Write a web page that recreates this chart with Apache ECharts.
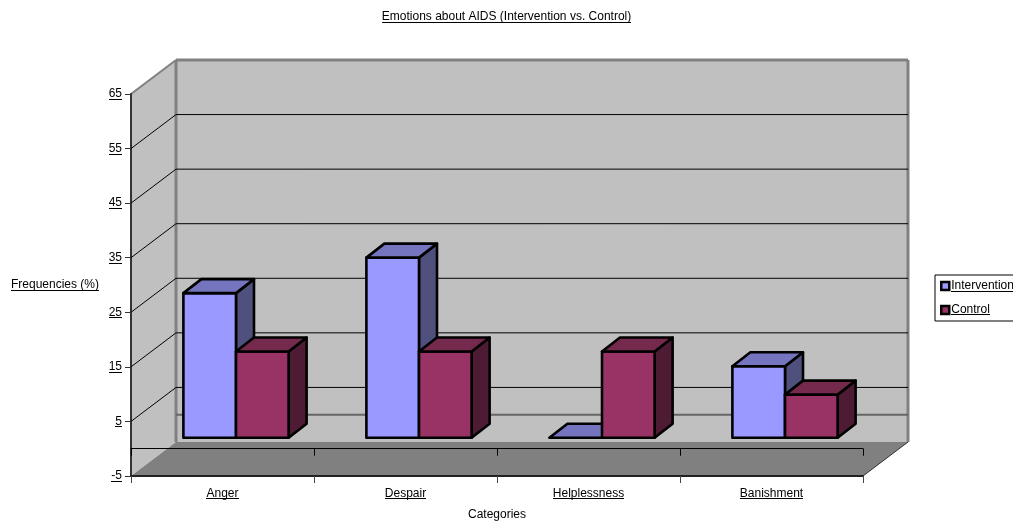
<!DOCTYPE html>
<html><head><meta charset="utf-8">
<style>html,body{margin:0;padding:0;background:#fff}#c{width:1013px;height:521px}</style>
<script src="https://cdn.jsdelivr.net/npm/echarts@6/dist/echarts.min.js"></script>
</head><body><div id="c"></div>
<script>
const titleText = 'Emotions about AIDS (Intervention vs. Control)';
const categories = ['Anger', 'Despair', 'Helplessness', 'Banishment'];
const intervention = [26.5, 33, 0, 13.1];
const control = [15.8, 15.8, 15.8, 7.9];
const yTicks = [-5, 5, 15, 25, 35, 45, 55, 65];
const gridValues = [5, 15, 25, 35, 45, 55];
const xName = 'Categories';
const yName = 'Frequencies (%)';

const FONT = '"Liberation Sans", Arial, sans-serif';
const FS = 12;
const DX = 45, DY = -34;            // depth of the 3D box
const BAR_DX = 13.5, BAR_DY = -11;  // where the bar row sits in that depth
const BAR_DEPTH_X = 18, BAR_DEPTH_Y = -14;
const BAR_FRAC = 0.2875;
const BAR_LW = 2.6;

const chart = echarts.init(document.getElementById('c'), null, {renderer: 'canvas'});

function poly(points, fill, stroke, lw) {
  return {type: 'polygon', shape: {points},
    style: {fill, stroke: stroke || null, lineWidth: lw || 0, lineJoin: 'round'}};
}
function line(a, b, stroke, lw) {
  return {type: 'line', shape: {x1: a[0], y1: a[1], x2: b[0], y2: b[1]},
    style: {stroke, lineWidth: lw, fill: null}};
}
function renderWalls(params, api) {
  const c = params.coordSys;
  const L = c.x, R = c.x + c.width, T = c.y, B = c.y + c.height;
  const G = '#808080';
  return {type: 'group', children: [
    poly([[L, T], [L + DX, T + DY], [L + DX, B + DY], [L, B]], '#c0c0c0'),
    poly([[L + DX, T + DY], [R + DX, T + DY], [R + DX, B + DY], [L + DX, B + DY]], '#c0c0c0'),
    poly([[L, B], [R, B], [R + DX, B + DY], [L + DX, B + DY]], G),
    line([L, T], [L + DX, T + DY], G, 2),
    line([L + DX, T + DY], [R + DX, T + DY], G, 3),
    line([L + DX, T + DY], [L + DX, B + DY], G, 3),
    line([R + DX, T + DY], [R + DX, B + DY], G, 3),
    line([R, B], [R + DX, B + DY], '#333', 1)
  ]};
}
function renderGrid(params, api) {
  const c = params.coordSys;
  const v = api.value(0);
  const y = api.coord([0, v])[1];
  return {type: 'group', children: [
    line([c.x, y], [c.x + DX, y + DY], '#000', 1),
    line([c.x + DX, y + DY], [c.x + c.width + DX, y + DY], '#000', 1)
  ]};
}
function renderZeroGrid(params, api) {
  const c = params.coordSys;
  const y = api.coord([0, 0])[1] + DY;
  return line([c.x + DX, y], [c.x + c.width + DX, y], '#666', 2);
}
function makeBar(slot, front, top, side) {
  return function (params, api) {
    const i = api.value(0), v = api.value(1);
    const cx = api.coord([i, 0])[0];
    const w = api.size([1, 0])[0] * BAR_FRAC;
    const x0 = cx + BAR_DX + slot * w, x1 = x0 + w;
    const y0 = api.coord([i, 0])[1] + BAR_DY;
    const y1 = api.coord([i, v])[1] + BAR_DY;
    const ax = BAR_DEPTH_X, ay = BAR_DEPTH_Y;
    const kids = [];
    if (v > 0) {
      kids.push(poly([[x1, y0], [x1 + ax, y0 + ay], [x1 + ax, y1 + ay], [x1, y1]], side, '#000', BAR_LW));
      kids.push(poly([[x0, y0], [x1, y0], [x1, y1], [x0, y1]], front, '#000', BAR_LW));
    }
    kids.push(poly([[x0, y1], [x1, y1], [x1 + ax, y1 + ay], [x0 + ax, y1 + ay]], top, '#000', BAR_LW));
    return {type: 'group', children: kids};
  };
}
const idx = a => a.map((v, i) => [i, v]);
const textStyle = {color: '#000', fontFamily: FONT, fontSize: FS};

chart.setOption({
  animation: false,
  backgroundColor: '#fff',
  textStyle,
  title: {text: titleText, left: 501.5, top: 6, textAlign: 'center',
    textStyle: {color: '#000', fontFamily: FONT, fontSize: FS, fontWeight: 'normal'}},
  legend: {
    data: ['Intervention', 'Control'], orient: 'vertical', left: 935, top: 275,
    padding: [5, 30, 5, 5], itemGap: 12, itemWidth: 8, itemHeight: 8,
    icon: 'rect', selectedMode: false,
    backgroundColor: '#fff', borderColor: '#000', borderWidth: 1,
    itemStyle: {borderColor: '#000', borderWidth: 2.5},
    textStyle: {color: '#000', fontFamily: FONT, fontSize: FS, padding: [0, 0, 0, -3]}
  },
  grid: {left: 131, right: 150, top: 94, bottom: 45, containLabel: false, outerBoundsMode: 'none'},
  xAxis: [
    {type: 'category', data: categories, position: 'bottom', boundaryGap: true,
      name: xName, nameLocation: 'middle', nameGap: 33,
      nameTextStyle: {color: '#000', fontFamily: FONT, fontSize: FS},
      axisLine: {onZero: false, lineStyle: {color: '#222', width: 2}},
      axisTick: {show: true, length: 7, lineStyle: {color: '#444', width: 1}},
      axisLabel: {color: '#000', fontFamily: FONT, fontSize: FS, margin: 12, interval: 0},
      splitLine: {show: false}},
    {type: 'category', data: categories, position: 'bottom', boundaryGap: true,
      axisLine: {onZero: true, lineStyle: {color: '#000', width: 1}},
      axisTick: {show: true, length: 7, lineStyle: {color: '#000', width: 1}},
      axisLabel: {show: false}, splitLine: {show: false}}
  ],
  yAxis: {type: 'value', min: -5, max: 65,
    name: yName, nameLocation: 'middle', nameRotate: 0, nameGap: 32,
    nameTextStyle: {color: '#000', fontFamily: FONT, fontSize: FS},
    axisLine: {show: true, onZero: false, lineStyle: {color: '#333', width: 2}},
    axisTick: {show: true, length: 6, customValues: yTicks, lineStyle: {color: '#333', width: 1}},
    axisLabel: {color: '#000', fontFamily: FONT, fontSize: FS, margin: 9, customValues: yTicks},
    splitLine: {show: false}},
  series: [
    {type: 'custom', name: 'walls', renderItem: renderWalls, data: [[0]], z: 0, silent: true, encode: {x: 0}},
    {type: 'custom', name: 'zero', renderItem: renderZeroGrid, data: [[0]], z: 1, silent: true, encode: {x: 0}},
    {type: 'custom', name: 'grid', renderItem: renderGrid, data: gridValues.map(v => [v]), z: 1, silent: true, encode: {y: 0}},
    {type: 'custom', name: 'Intervention', renderItem: makeBar(-1, '#9999ff', '#7575bf', '#50507f'),
      data: idx(intervention), encode: {x: 0, y: 1}, itemStyle: {color: '#9999ff'}, z: 3, silent: true},
    {type: 'custom', name: 'Control', renderItem: makeBar(0, '#993366', '#752a4d', '#4d1b33'),
      data: idx(control), encode: {x: 0, y: 1}, itemStyle: {color: '#993366'}, z: 4, silent: true}
  ]
});

// Text underlines: ECharts has no underline style, so rule them below the real text.
const ctx = document.createElement('canvas').getContext('2d');
ctx.font = FS + 'px "Liberation Sans", Arial, sans-serif';
const tw = s => ctx.measureText(s).width;
const ul = [];
function under(s, x, y, align) {
  const w = tw(s);
  const x0 = align === 'right' ? x - w : align === 'left' ? x : x - w / 2;
  ul.push({type: 'line', silent: true, z: 100,
    shape: {x1: Math.round(x0), y1: y + 0.5, x2: Math.round(x0 + w), y2: y + 0.5},
    style: {stroke: '#000', lineWidth: 1}});
}
under(titleText, 506.5, 22, 'center');
under(yName, 99, 290, 'right');
categories.forEach((s, i) => under(s, chart.convertToPixel({xAxisIndex: 0}, i), 498, 'center'));
yTicks.forEach(v => under(String(v), 122, Math.round(chart.convertToPixel({yAxisIndex: 0}, v)) + 5, 'right'));
under('Intervention', 951, 291, 'left');
under('Control', 951, 314, 'left');
chart.setOption({graphic: {elements: ul}});
</script></body></html>
